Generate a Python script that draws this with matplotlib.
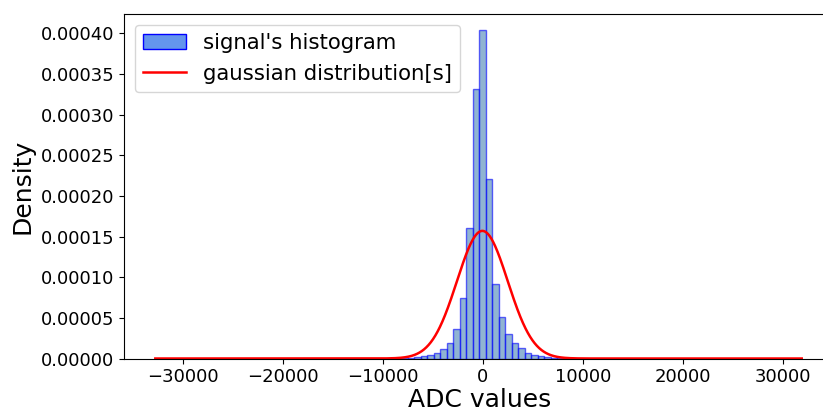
import matplotlib
matplotlib.use("Agg")
import matplotlib.pyplot as plt
from matplotlib.patches import Patch
from matplotlib.lines import Line2D
import numpy as np

# histogram of ADC values (density), bins
bin_left = [-8170, -7520, -6870, -6220, -5570, -4920, -4270, -3620, -2970,
            -2320, -1670, -1020, -370, 280, 930, 1580, 2230, 2880, 3530,
            4180, 4830, 5480, 6130, 6780, 7430, 8080]
bin_width = 650
density = [0.4e-6, 0.8e-6, 1.5e-6, 2.7e-6, 4.3e-6, 6.8e-6, 11.3e-6, 19.5e-6,
           36.0e-6, 74.8e-6, 160e-6, 332e-6, 404.3e-6, 221e-6, 91.8e-6,
           50.8e-6, 30.2e-6, 18.7e-6, 12.6e-6, 7.2e-6, 4.7e-6, 3.5e-6,
           2.2e-6, 1.0e-6, 0.6e-6, 0.3e-6]

# fitted gaussian
mu = -50
sigma = 2540
x_min, x_max = -32768, 31900

fig = plt.figure(figsize=(8.23, 4.13), dpi=100)
# right spine falls just outside the picture, as in the original crop
ax = fig.add_axes([124 / 823, 54.5 / 413, 712 / 823, 344.5 / 413])

ax.bar(bin_left, density, width=bin_width, align="edge",
       facecolor=(70 / 255, 130 / 255, 180 / 255, 0.6),
       edgecolor=(0, 0, 1, 0.6), linewidth=1)

xs = np.linspace(x_min, x_max, 2000)
pdf = np.exp(-0.5 * ((xs - mu) / sigma) ** 2) / (sigma * np.sqrt(2 * np.pi))
ax.plot(xs, pdf, color="red", linewidth=1.8)

ax.set_xlim(-35900, 35330)
ax.set_ylim(0, 0.000424)
yt = np.arange(0, 0.00041, 0.00005)
ax.set_yticks(yt)
ax.set_yticklabels([f"{v:.5f}" for v in yt])
ax.tick_params(labelsize=13)

ax.set_xlabel("ADC values", fontsize=18, labelpad=1)
ax.set_ylabel("Density", fontsize=18)

handles = [Patch(facecolor="cornflowerblue", edgecolor="blue"),
           Line2D([0], [0], color="red", linewidth=1.8)]
ax.legend(handles, ["signal's histogram", "gaussian distribution[s]"],
          loc="upper left", fontsize=15.3)

fig.savefig("out.png", dpi=100)
